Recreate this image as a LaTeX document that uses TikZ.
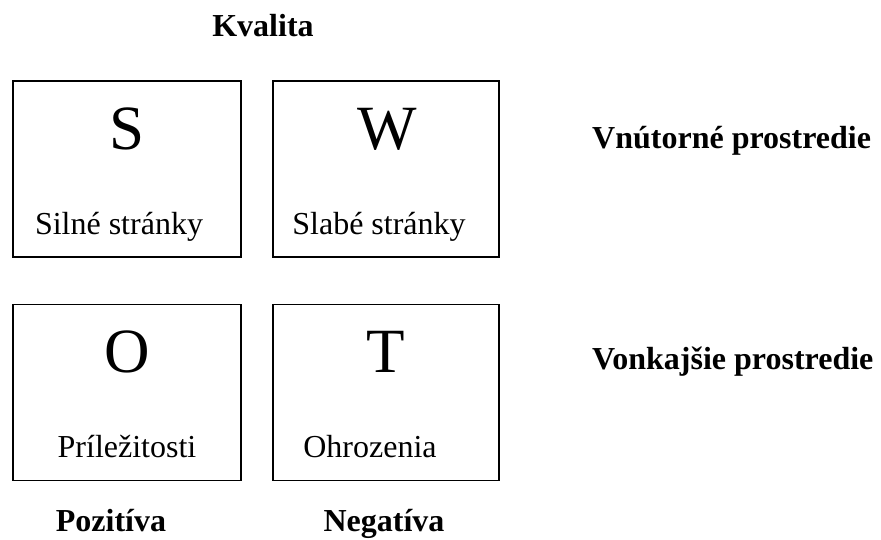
\documentclass[tikz,border=0pt]{standalone}
\usepackage{fontspec}
\setmainfont{Liberation Serif}
\usetikzlibrary{positioning}

\begin{document}
\begin{tikzpicture}[
    x=1pt, y=-1pt,
    box/.style={draw, line width=1.4pt, minimum height=176pt, inner sep=0pt},
    letter/.style={anchor=base, inner sep=0pt, font=\fontsize{63}{63}\selectfont},
    caption/.style={anchor=base, inner sep=0pt, font=\fontsize{32}{32}\selectfont},
    head/.style={anchor=base, inner sep=0pt, font=\fontsize{32}{32}\selectfont\bfseries}
]
\useasboundingbox (0,0) rectangle (881,539);

% the four quadrants
\node[box, minimum width=228pt] (s) at (127,169) {};
\node[box, minimum width=226pt] (w) at (386,169) {};
\node[box, minimum width=228pt] (o) at (127,392.5) {};
\node[box, minimum width=226pt] (t) at (386,392.5) {};

\node[letter] (sl) at (127,149) {S};
\node[letter] (wl) at (387,149) {W};
\node[letter] (ol) at (127,372) {O};
\node[letter] (tl) at (386,372) {T};

\node[caption] (sc) at (119,234) {Silné stránky};
\node[caption] (wc) at (379,234) {Slabé stránky};
\node[caption] (oc) at (127,457) {Príležitosti};
\node[caption] (tc) at (370,457) {Ohrozenia};

% axis labels
\node[head] (kval) at (263,36) {Kvalita};
\node[head, anchor=base west] (vnut) at (592,148) {Vnútorné prostredie};
\node[head, anchor=base west] (vonk) at (592,369) {Vonkajšie prostredie};
\node[head] (poz) at (111,531) {Pozitíva};
\node[head] (neg) at (384,531) {Negatíva};
\end{tikzpicture}
\end{document}
